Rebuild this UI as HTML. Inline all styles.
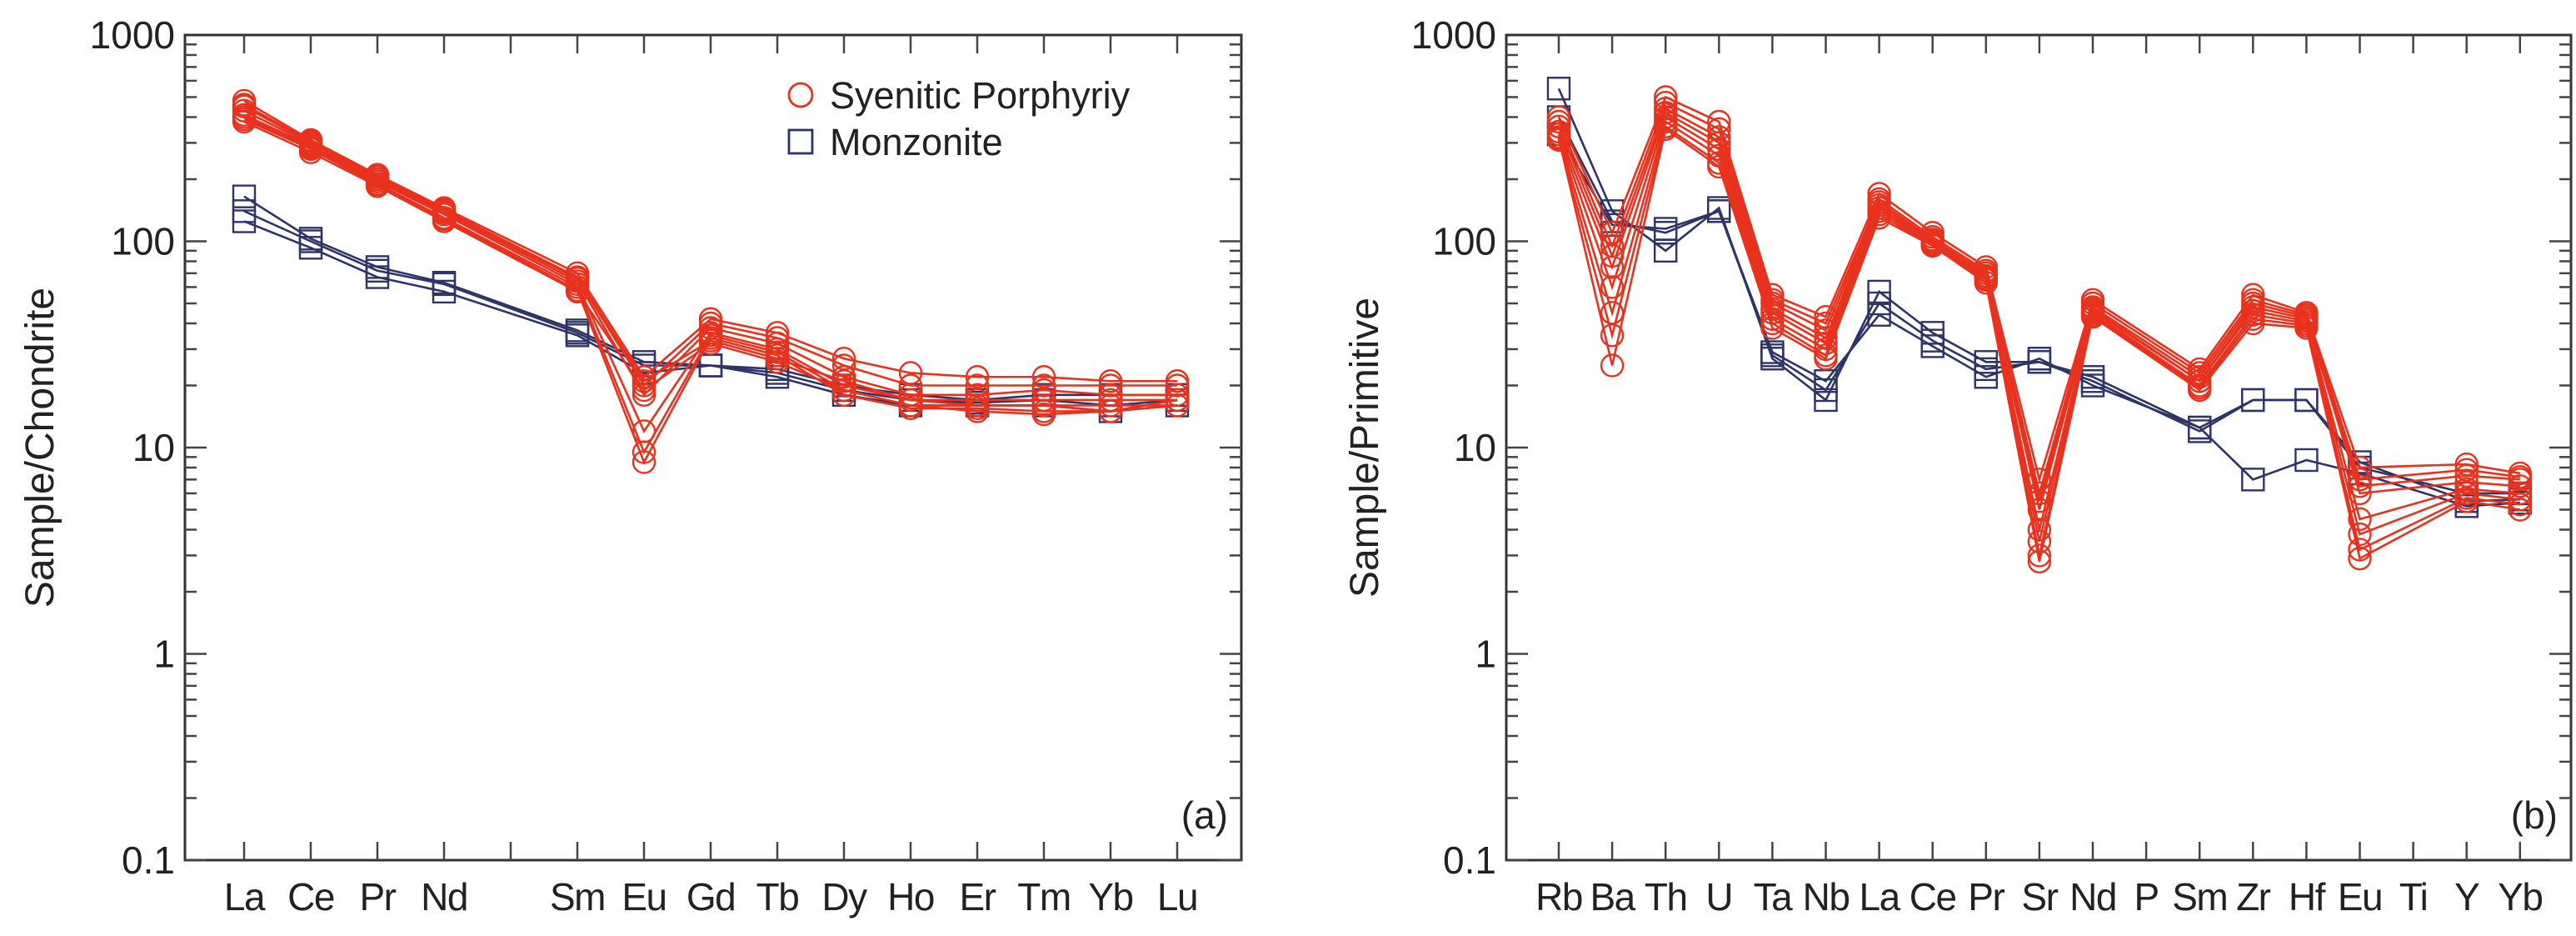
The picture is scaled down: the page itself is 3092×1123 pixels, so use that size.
<!DOCTYPE html>
<html><head><meta charset="utf-8"><style>
html,body{margin:0;padding:0;background:#fff;}
svg{display:block;font-family:"Liberation Sans",Arial,sans-serif;}
</style></head><body>
<svg id="chart" width="3092" height="1123" viewBox="0 0 3092 1123"></svg>
<script>
// ---- data: panel (a) chondrite-normalized REE ----
const reeCats = ["La","Ce","Pr","Nd","Pm","Sm","Eu","Gd","Tb","Dy","Ho","Er","Tm","Yb","Lu"];
const reeLabels = ["La","Ce","Pr","Nd","","Sm","Eu","Gd","Tb","Dy","Ho","Er","Tm","Yb","Lu"];
const reeSyen1 = [480,310,210,145,null,70,22,42,36,27,23,22,22,21,21];
const reeSyen2 = [450,300,205,140,null,66,20,40,34,25,20,20,20,20,20];
const reeSyen3 = [430,295,200,138,null,64,18,38,32,22,18,18,19,18,18];
const reeSyen4 = [410,290,195,135,null,62,12,36,30,20,17,17,17,17,17];
const reeSyen5 = [400,285,190,130,null,60,9.5,35,29,19,16,16,16,16,16];
const reeSyen6 = [390,280,188,128,null,58,8.5,34,28,18,15.5,15.5,15,15,16];
const reeSyen7 = [460,305,205,142,null,67,21,33,27,21,17,16,16,15,17];
const reeSyen8 = [380,270,185,125,null,57,19,32,26,19,16,15,14.5,15,17];
const reeMonz1 = [165,103,75,63,null,37,26,25,24,20,18,17,18,18,18];
const reeMonz2 = [140,100,72,62,null,36,25,25,23,19,17,16.5,17,16,17];
const reeMonz3 = [125,93,67,57,null,35,23,25,22,18,16,16,16,15,16];
// ---- data: panel (b) primitive-mantle normalized ----
const pmCats = ["Rb","Ba","Th","U","Ta","Nb","La","Ce","Pr","Sr","Nd","P","Sm","Zr","Hf","Eu","Ti","Y","Yb"];
const pmSyen1 = [400,110,500,380,55,43,170,110,75,7,52,null,24,55,45,8,null,8.3,7.5];
const pmSyen2 = [380,95,470,350,52,40,160,105,72,6,50,null,23,52,44,7,null,7.8,7.2];
const pmSyen3 = [360,85,440,320,50,37,155,102,70,5.5,48,null,22,50,43,6.5,null,7.3,7];
const pmSyen4 = [340,75,420,300,47,34,150,100,68,5,47,null,21,48,42,6,null,6.8,6.5];
const pmSyen5 = [330,60,400,280,45,32,145,98,67,4,46,null,21,46,41,4.5,null,6.3,6];
const pmSyen6 = [320,45,380,260,42,30,140,97,66,3.5,45,null,20,44,40,3.8,null,6,5.6];
const pmSyen7 = [310,35,360,240,40,28,135,96,65,3,44,null,19.5,42,39,3.2,null,5.7,5.3];
const pmSyen8 = [315,25,350,230,38,27,130,95,63,2.8,43,null,19,40,38,2.9,null,5.5,5];
const pmMonz1 = [550,140,90,145,27,17,57,36,26,26,22,null,12.5,17,17,8.5,null,5.5,5.6];
const pmMonz2 = [400,125,110,140,28,19,50,33,24,26,21,null,12,17,17,8,null,6,6];
const pmMonz3 = [330,120,115,140,29,21,44,31,22,27,20,null,12.5,7,8.7,7.5,null,5.2,5.4];
const yTicks = [0.1,1,10,100,1000];
const yTickLabels = ["0.1","1","10","100","1000"];

const NS="http://www.w3.org/2000/svg";
const svg=document.getElementById('chart');
const RED="#e8321e", NAVY="#2c3468";
function mk(tag,attrs,parent){const e=document.createElementNS(NS,tag);for(const k in attrs)e.setAttribute(k,attrs[k]);(parent||svg).appendChild(e);return e;}

function panel(cfg){
  const g=mk('g',{});
  
  
  const L=cfg.L,R=cfg.R,T=42,B=1032;
  const yScale=v=>B-(Math.log10(v)+1)/4*(B-T);
  const n=cfg.cats.length;
  const xScale=i=>cfg.x0+i*cfg.dx;
  const frame=mk('rect',{x:L,y:T,width:R-L,height:B-T,fill:'none',stroke:'#333',"stroke-width":3},g);
  
  
  for(let d=-1;d<3;d++){
    for(let m=1;m<=9;m++){
      const v=m*Math.pow(10,d);const y=yScale(v);
      const len=m===1?26:14;
      mk('line',{x1:L,y1:y,x2:L+len,y2:y,stroke:'#444',"stroke-width":2.5},g);
      mk('line',{x1:R,y1:y,x2:R-len,y2:y,stroke:'#444',"stroke-width":2.5},g);
    }
  }
  yTicks.forEach((v,i)=>{
    const t=mk('text',{x:L-12,y:yScale(v)+16,"text-anchor":"end","font-size":46,fill:'#222'},g);
    t.textContent=yTickLabels[i];
    
    
  });
  for(let i=0;i<n;i++){
    const x=xScale(i);
    mk('line',{x1:x,y1:B,x2:x,y2:B-22,stroke:'#444',"stroke-width":2.5},g);
    mk('line',{x1:x,y1:T,x2:x,y2:T+22,stroke:'#444',"stroke-width":2.5},g);
    const lab=cfg.labels[i];
    if(lab){
      const t=mk('text',{x:x,y:1092,"text-anchor":"middle","font-size":46,"letter-spacing":-1.5,fill:'#222'},g);
      t.textContent=lab;
      
      
    }
  }
  const yt=mk('text',{x:0,y:0,transform:`translate(${cfg.ytX},${(T+B)/2}) rotate(-90)`,"text-anchor":"middle","font-size":48,fill:'#222'},g);
  yt.textContent=cfg.ytitle;
  
  
  const pl=mk('text',{x:R-16,y:994,"text-anchor":"end","font-size":46,fill:'#222'},g);
  pl.textContent=cfg.tag;
  
  
  function series(vals,color,shape,name){
    const sg=mk('g',{},g);
    
    
    let pts=[];
    vals.forEach((v,i)=>{if(v!=null)pts.push([xScale(i),yScale(v)]);});
    mk('polyline',{points:pts.map(p=>p.join(',')).join(' '),fill:'none',stroke:color,"stroke-width":2.6},sg);
    pts.forEach(p=>{
      let m;
      if(shape==='c') m=mk('circle',{cx:p[0],cy:p[1],r:13,fill:'none',stroke:color,"stroke-width":2.4},sg);
      else m=mk('rect',{x:p[0]-13,y:p[1]-13,width:26,height:26,fill:'none',stroke:color,"stroke-width":2.4},sg);
      
      
    });
  }
  cfg.monz.forEach((s,i)=>series(s,NAVY,'s','monzonite-series-'+(i+1)));
  cfg.syen.forEach((s,i)=>series(s,RED,'c','syenitic-series-'+(i+1)));
}
panel({name:'panel-a-ree',L:222,R:1490,x0:293,dx:80,cats:reeCats,labels:reeLabels,ytitle:'Sample/Chondrite',ytX:64,tag:'(a)',
  syen:[reeSyen1,reeSyen2,reeSyen3,reeSyen4,reeSyen5,reeSyen6,reeSyen7,reeSyen8],monz:[reeMonz1,reeMonz2,reeMonz3]});
panel({name:'panel-b-spider',L:1808,R:3086,x0:1871,dx:64.1,cats:pmCats,labels:pmCats,ytitle:'Sample/Primitive',ytX:1654,tag:'(b)',
  syen:[pmSyen1,pmSyen2,pmSyen3,pmSyen4,pmSyen5,pmSyen6,pmSyen7,pmSyen8],monz:[pmMonz1,pmMonz2,pmMonz3]});
const lg=mk('g',{});


mk('circle',{cx:961,cy:114,r:14,fill:'none',stroke:RED,"stroke-width":2.8},lg);
const l1=mk('text',{x:996,y:130,"font-size":45,fill:'#222'},lg);l1.textContent='Syenitic Porphyriy';


mk('rect',{x:947,y:156,width:28,height:28,fill:'none',stroke:NAVY,"stroke-width":2.8},lg);
const l2=mk('text',{x:996,y:186,"font-size":45,fill:'#222'},lg);l2.textContent='Monzonite';


</script>
</body></html>
